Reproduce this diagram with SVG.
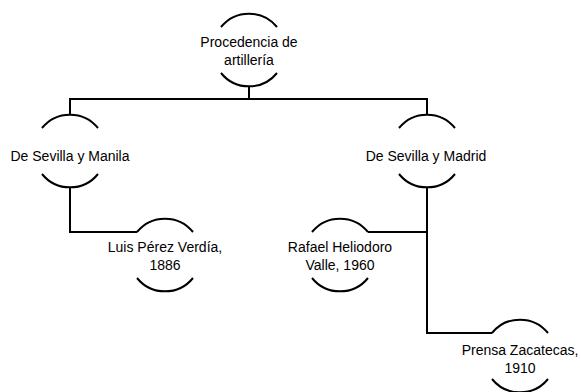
<svg xmlns="http://www.w3.org/2000/svg" width="581" height="392" viewBox="0 0 581 392">
<style>
.arc{fill:none;stroke:#000;stroke-width:2}
.con{fill:none;stroke:#000;stroke-width:2}
text{font-family:"Liberation Sans",Arial,sans-serif;font-size:14px;fill:#000;text-anchor:middle}
</style>
<rect width="581" height="392" fill="#fff"/>
<g id="connectors">
<path class="con" d="M249,86V99M70,99H427M70,98V115M427,98V115"/>
<path class="con" d="M70,187V232H137"/>
<path class="con" d="M427,187V333H492M427,232H368"/>
</g>
<g id="n-root">
<path class="arc" d="M221,27A36,36 0 0 1 277,27M221,73A36,36 0 0 0 277,73"/>
<text x="249" y="47">Procedencia de</text>
<text x="249" y="65">artillería</text>
</g>
<g id="n-manila">
<path class="arc" d="M42,128A36,36 0 0 1 98,128M42,174A36,36 0 0 0 98,174"/>
<text x="70" y="161">De Sevilla y Manila</text>
</g>
<g id="n-madrid">
<path class="arc" d="M399,128A36,36 0 0 1 455,128M399,174A36,36 0 0 0 455,174"/>
<text x="426" y="161">De Sevilla y Madrid</text>
</g>
<g id="n-luis">
<path class="arc" d="M137,232A36,36 0 0 1 193,232M137,278A36,36 0 0 0 193,278"/>
<text x="165" y="252">Luis Pérez Verdía,</text>
<text x="165" y="270">1886</text>
</g>
<g id="n-rafael">
<path class="arc" d="M312,232A36,36 0 0 1 368,232M312,278A36,36 0 0 0 368,278"/>
<text x="340" y="252">Rafael Heliodoro</text>
<text x="340" y="270">Valle, 1960</text>
</g>
<g id="n-prensa">
<path class="arc" d="M492,333A36,36 0 0 1 548,333M492,379A36,36 0 0 0 548,379"/>
<text x="520" y="355">Prensa Zacatecas,</text>
<text x="520" y="373">1910</text>
</g>
</svg>
